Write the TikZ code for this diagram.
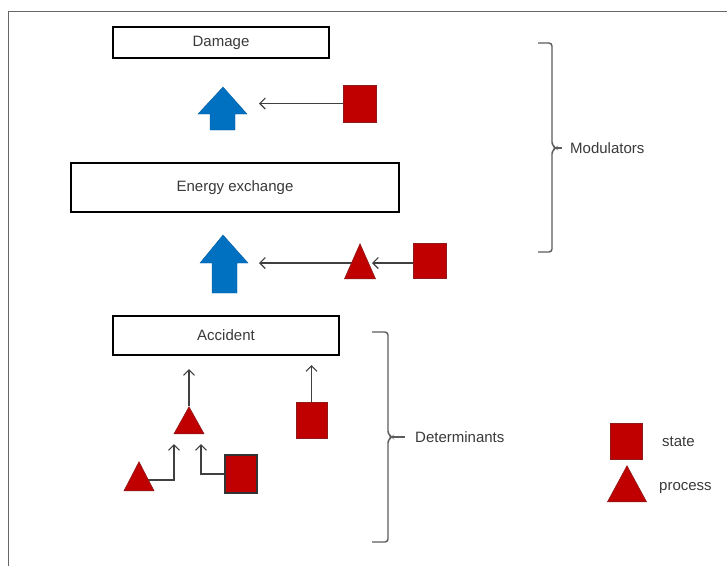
\documentclass[tikz,border=0pt]{standalone}
\usepackage{fontspec}
\setmainfont{Liberation Sans}
\usetikzlibrary{arrows.meta,shapes.geometric,backgrounds}
\definecolor{stred}{HTML}{C00000}
\definecolor{stredline}{HTML}{8E1A1A}
\definecolor{ablue}{HTML}{0070C0}
\definecolor{txt}{HTML}{3A3A3A}
\definecolor{lin}{HTML}{404040}
\begin{document}
\begin{tikzpicture}[x=1pt,y=-1pt,
  mainbox/.style={draw=black,line width=2.6pt,fill=white,inner sep=0pt,font=\fontsize{15}{17}\selectfont,text=txt},
  statebox/.style={draw=stredline,line width=0.8pt,fill=stred,inner sep=0pt,minimum width=#1},
  procbox/.style={isosceles triangle,isosceles triangle stretches,shape border rotate=90,
     draw=stredline,line width=0.6pt,fill=stred,inner sep=0pt,anchor=apex},
  conn/.style={draw=lin,line width=1.1pt,-{Straight Barb[length=5.5pt,width=11pt,line width=1.1pt]}},
  bracestyle/.style={draw=lin!85,line width=1.4pt,rounded corners=3pt},
  lab/.style={font=\fontsize{15}{17}\selectfont,text=txt,inner sep=0pt,anchor=west},
  bigarrow/.style={fill=ablue,draw=ablue!85!black,line width=0.4pt}]
\useasboundingbox (0,0) rectangle (727,566);
\begin{scope}[on background layer]
\fill[white] (0,0) rectangle (727,566);
\end{scope}
\draw[lin!80,line width=1pt] (8,566) -- (8,11) -- (727,11);

% main boxes
\node[mainbox,minimum width=216pt,minimum height=31pt] (damage) at (221,42.5) {Damage};
\node[mainbox,minimum width=328pt,minimum height=49pt] (energy) at (235,187.5) {Energy exchange};
\node[mainbox,minimum width=226pt,minimum height=39pt] (accident) at (226,335.5) {Accident};

% blue block arrows
\path[bigarrow] (223,87) -- (247,114) -- (235,114) -- (235,130) -- (210,130) -- (210,114) -- (198,114) -- cycle;
\path[bigarrow] (223,235) -- (248,263) -- (237,263) -- (237,293) -- (212,293) -- (212,263) -- (200,263) -- cycle;

% states and processes
\node[statebox=33pt,minimum height=37pt] (sq1) at (359.5,103.5) {};
\node[statebox=33pt,minimum height=35pt] (sq2) at (429.5,260.5) {};
\node[procbox,minimum width=31pt,minimum height=35pt] (t2) at (360,243) {};
\node[statebox=31pt,minimum height=36pt] (sq3) at (311.5,420) {};
\node[procbox,minimum width=30pt,minimum height=27pt] (t3) at (189,406) {};
\node[procbox,minimum width=30pt,minimum height=29pt] (t4) at (139,461) {};
\node[statebox=32pt,minimum height=38pt,draw=black!80,line width=1.4pt] (sq4) at (241,474) {};

% connector ends
\coordinate (e1) at (259,103.5);
\coordinate (e2) at (259,263);
\coordinate (e3) at (372,263);
\coordinate (e4) at (189,369);
\coordinate (e5) at (311.5,365);
\coordinate (e6) at (174,444);
\coordinate (e7) at (201,444);

\begin{scope}[on background layer]
\draw[conn] (t2.apex |- e2) -- (e2);
\draw[conn] (t4.apex |- 0,480) -- (174,480) -- (e6);
\end{scope}
\draw[conn] (sq1.west) -- (e1);
\draw[conn] (sq2.west |- e3) -- (e3);
\draw[conn] (t3.apex) -- (e4);
\draw[conn] (sq3.north) -- (e5);
\draw[conn] (sq4.west) -- (201,474) -- (e7);

% braces
\draw[bracestyle] (538,43) -- (552,43) -- (552,145) -- (556,148) -- (552,151) -- (552,252) -- (538,252);
\draw[lin!85,line width=1.4pt] (556,148) -- (562,148);
\node[lab] (mod) at (570,148) {Modulators};
\draw[bracestyle] (372,332) -- (388,332) -- (388,434) -- (392,437) -- (388,440) -- (388,542) -- (372,542);
\draw[lin!85,line width=1.4pt] (392,437) -- (405,437);
\node[lab] (det) at (415,437) {Determinants};

% legend
\node[statebox=32pt,minimum height=36pt] (lsq) at (626,441) {};
\node[lab] (lstate) at (662,442) {state};
\node[procbox,minimum width=39pt,minimum height=36pt] (ltri) at (627,465) {};
\node[lab] (lproc) at (659,488) {process};
\end{tikzpicture}
\end{document}
